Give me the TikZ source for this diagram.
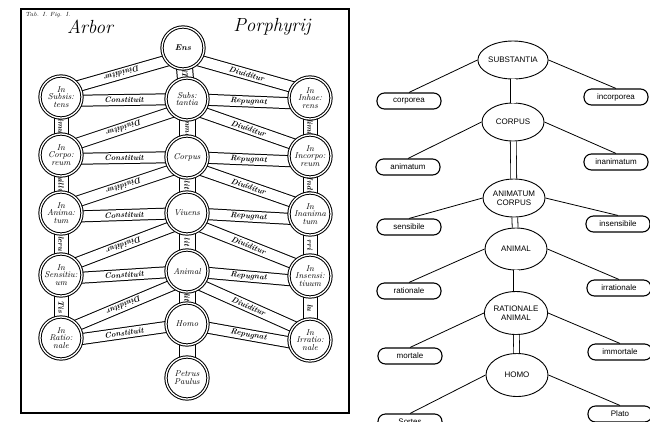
\documentclass[tikz,border=0pt]{standalone}
\usepackage{fontspec}
\newfontfamily\sansfont{Liberation Sans}
\usetikzlibrary{shapes.geometric,calc,backgrounds}

\tikzset{
	ring/.style={circle,draw,line width=1pt,double,double distance=1.3pt,fill=white,
		minimum size=42pt,inner sep=0pt,align=center,font=\fontsize{8.5}{7.8}\selectfont\itshape},
	band/.style={draw,line width=1pt,double=white,double distance=10pt},
	stem/.style={band,double distance=13pt},
	bandtext/.style={inner sep=0pt,font=\fontsize{7.8}{7.8}\selectfont\bfseries\itshape},
	genus/.style={ellipse,draw,line width=0.9pt,minimum width=62pt,minimum height=38pt,
		inner sep=0pt,align=center,font=\sansfont\fontsize{8}{9}\selectfont},
	differentia/.style={draw,line width=1.1pt,rounded corners=7.5pt,minimum width=64pt,
		minimum height=16pt,inner sep=0pt,font=\sansfont\fontsize{8}{8}\selectfont},
}

\begin{document}
\begin{tikzpicture}[x=1pt,y=-1pt]
	\useasboundingbox (0,0) rectangle (650,421);
	\clip (0,0) rectangle (650,421);

	% the engraving
	\draw[line width=1.4pt] (21,9) rectangle (349,413);
	\node[font=\fontsize{6}{6}\selectfont\itshape] (tab) at (48,15) {Tab. I. Fig. I.};
	\node[font=\fontsize{19}{19}\selectfont\itshape] (arbor) at (90,27) {Arbor};
	\node[font=\fontsize{19}{19}\selectfont\itshape] (porphyrij) at (272,27) {Porphyrij};

	\node[ring,font=\fontsize{8.5}{7.8}\selectfont\bfseries\itshape] (ens) at (183,48) {Ens};
	\foreach \n/\y/\t in {substantia/99/{Subs:\\tantia}, corpus/157/Corpus, vivens/213/Viuens,
		animal/271/Animal, homo/324/Homo, petrus/378/{Petrus\\Paulus}}
		\node[ring] (\n) at (187,\y) {\t};
	\foreach \n/\y/\t in {subsistens/97/{In\\Subsis:\\tens}, corporeum/155/{In\\Corpo:\\reum},
		animatum/213/{In\\Anima:\\tum}, sensitivum/275/{In\\Sensitiu:\\um}, rationale/338/{In\\Ratio:\\nale}}
		\node[ring] (\n) at (61,\y) {\t};
	\foreach \n/\y/\t in {inhaerens/98/{In\\Inhae:\\rens}, incorporeum/156/{In\\Incorpo:\\reum},
		inanimatum/214/{In\\Inanima\\tum}, insensitivum/276/{In\\Insensi:\\tiuum}, irrationale/340/{In\\Irratio:\\nale}}
		\node[ring] (\n) at (310,\y) {\t};

	\begin{scope}[on background layer]
		\foreach \a/\b/\t in {ens/substantia/iT, substantia/corpus/mma, corpus/vivens/lit,
			vivens/animal/lit, animal/homo/lit, homo/petrus/{}}
			\draw[stem,double distance=15pt] (\a.center) -- node[bandtext,rotate=-90] {\t} (\b.center);
		\foreach \a/\b/\t in {subsistens/corporeum/limui, corporeum/animatum/uillu,
			animatum/sensitivum/leru, sensitivum/rationale/Tis}
			\draw[stem] (\a.center) -- node[bandtext,rotate=-90] {\t} (\b.center);
		\foreach \a/\b/\t in {inhaerens/incorporeum/limi, incorporeum/inanimatum/Indi,
			inanimatum/insensitivum/rri, insensitivum/irrationale/lu}
			\draw[stem] (\a.center) -- node[bandtext,rotate=-90] {\t} (\b.center);
		\foreach \c/\l/\r/\s in {ens/subsistens/inhaerens/substantia, substantia/corporeum/incorporeum/corpus,
			corpus/animatum/inanimatum/vivens, vivens/sensitivum/insensitivum/animal,
			animal/rationale/irrationale/homo} {
			\draw[band] ($(\c)+(0,8)$) -- node[bandtext,sloped,allow upside down] {Diuiditur} ($(\l)+(0,-6)$);
			\draw[band] ($(\c)+(0,8)$) -- node[bandtext,sloped] {Diuiditur} ($(\r)+(0,-6)$);
			\draw[band] ($(\l)+(0,4)$) -- node[bandtext,sloped] {Constituit} (\s.center);
			\draw[band] (\s.center) -- node[bandtext,sloped] {Repugnat} ($(\r)+(0,6)$);
		}
	\end{scope}

	% the modern tree
	\node[genus] (gsubstantia) at (513,60) {SUBSTANTIA};
	\node[genus] (gcorpus) at (513,122) {CORPUS};
	\node[genus] (ganimatum) at (514,198) {ANIMATUM\\CORPUS};
	\node[genus,minimum height=42pt] (ganimal) at (516,249) {ANIMAL};
	\node[genus,minimum height=43pt] (grationale) at (516,313) {RATIONALE\\ANIMAL};
	\node[genus,minimum height=43pt] (ghomo) at (517,375) {HOMO};

	\node[differentia] (dcorporea) at (409,101) {corporea};
	\node[differentia] (dincorporea) at (616,97) {incorporea};
	\node[differentia] (danimatum) at (408,167) {animatum};
	\node[differentia] (dinanimatum) at (616,162) {inanimatum};
	\node[differentia] (dsensibile) at (409,227) {sensibile};
	\node[differentia] (dinsensibile) at (618,224) {insensibile};
	\node[differentia] (drationale) at (409,291) {rationale};
	\node[differentia] (dirrationale) at (619,288) {irrationale};
	\node[differentia] (dmortale) at (410,356) {mortale};
	\node[differentia] (dimmortale) at (620,352) {immortale};
	\node[differentia] (dsortes) at (410,422) {Sortes};
	\node[differentia] (dplato) at (620,414) {Plato};

	\foreach \a/\b in {gsubstantia/gcorpus, gcorpus/ganimatum, ganimatum/ganimal,
		ganimal/grationale, grationale/ghomo}
		\draw[line width=0.8pt,double,double distance=5pt] (\a) -- (\b);
	\foreach \g/\l/\r in {gsubstantia/dcorporea/dincorporea, gcorpus/danimatum/dinanimatum,
		ganimatum/dsensibile/dinsensibile, ganimal/drationale/dirrationale,
		grationale/dmortale/dimmortale, ghomo/dsortes/dplato} {
		\draw[line width=0.8pt] (\g.west) -- (\l.north);
		\draw[line width=0.8pt] (\g.east) -- (\r.north);
	}
\end{tikzpicture}
\end{document}
